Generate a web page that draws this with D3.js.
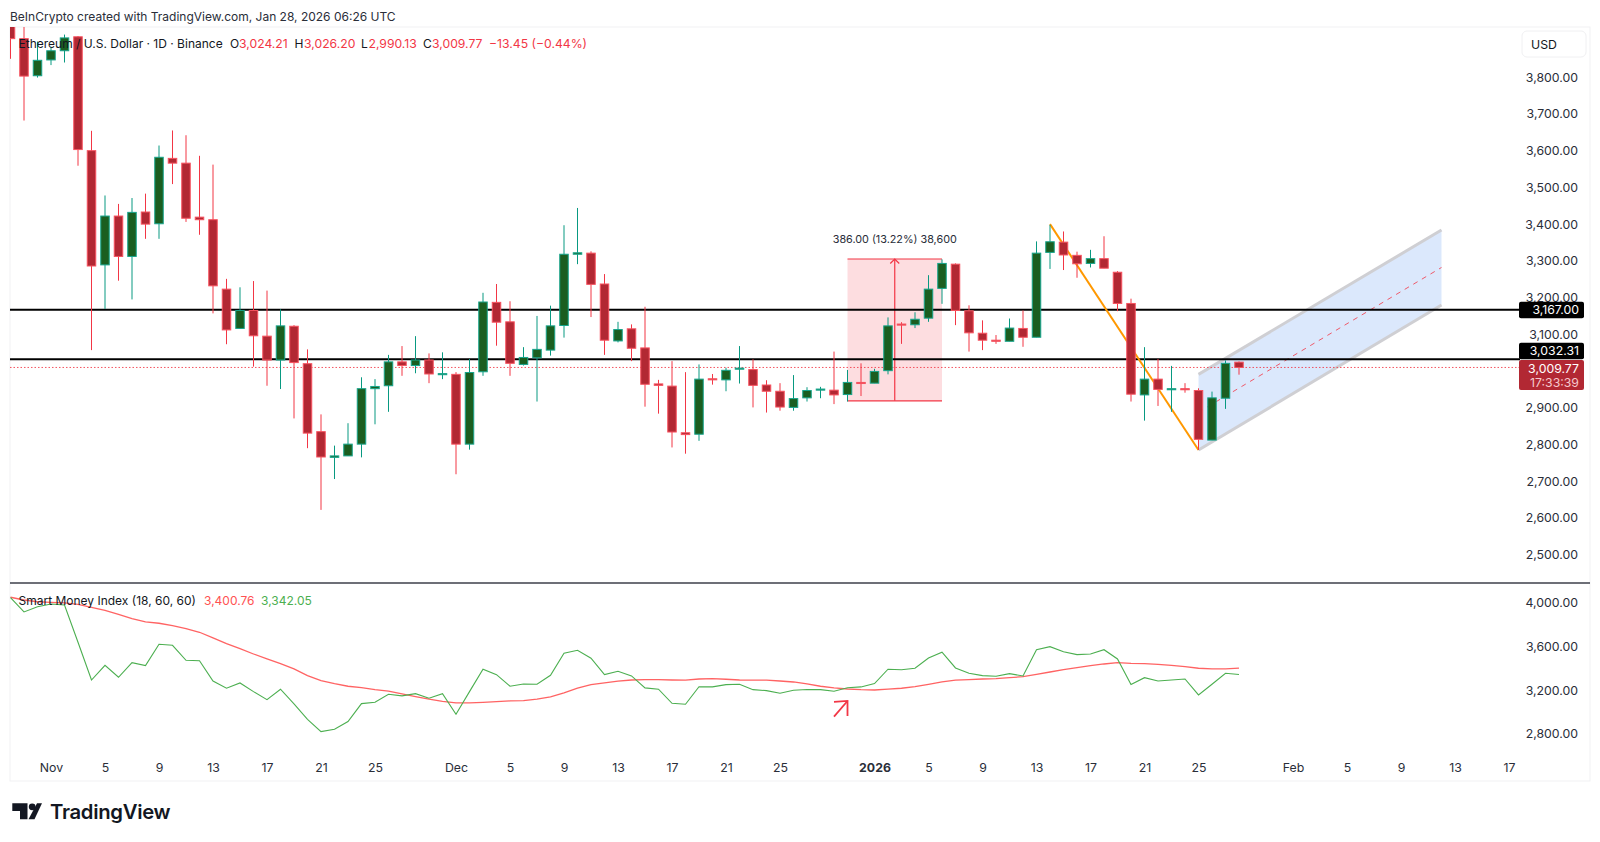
<!DOCTYPE html>
<html>
<head>
<meta charset="utf-8">
<script src="https://cdn.jsdelivr.net/npm/d3@7"></script>
<style>
  html, body { margin: 0; padding: 0; background: #fff; }
  svg { display: block; }
  text { font-family: Inter, "Noto Sans", sans-serif; }
</style>
</head>
<body>
<svg width="1600" height="842"></svg>
<script>
// first candle is Oct 29 2025, one candle per day
var firstDay = new Date(Date.UTC(2025, 9, 29));

var opens = [3960,3905,3804,3847,3872,3910,3600,3289,3422,3312,3433,3401,3579,3566,3419,3412,3223,3116,3165,3095,3030,3122,3020,2835,2765,2769,2801,2952,2960,3025,3015,3030,2990,2991,2801,2998,3187,3134,3018,3036,3057,3124,3318,3321,3237,3082,3115,3063,2965,2959,2832,2828,2979,2976,3005,3004,2962,2945,2901,2927,2948,2948,2936,2969,2967,3001,3128,3126,3144,3225,3291,3164,3103,3084,3081,3116,3092,3323,3351,3315,3293,3306,3269,3184,2935,2978,2949,2952,2947,2812,2926,3024.21];
var highs = [4000,3950,3897,3883,3916,3912,3654,3478,3455,3471,3483,3614,3655,3642,3586,3562,3251,3228,3245,3219,3168,3125,3059,2882,2797,2858,2983,2978,3044,3068,3095,3048,3051,2997,3033,3213,3237,3190,3065,3150,3178,3397,3444,3326,3264,3134,3127,3175,2976,3027,2997,3018,2992,3009,3068,3032,2975,2967,2989,2956,2957,3053,3003,3021,3006,3146,3133,3160,3261,3304,3293,3179,3138,3098,3143,3165,3353,3398,3380,3325,3330,3367,3272,3197,3065,3033,3014,2967,2953,2944,3029,3026.20];
var lows = [3850,3682,3799,3833,3840,3559,3057,3169,3246,3195,3360,3360,3509,3406,3371,3157,3073,3116,3012,2960,2951,2871,2790,2622,2706,2769,2765,2855,2889,2987,2994,2967,2978,2719,2786,2987,3069,2987,3015,2917,3042,3091,3291,3147,3044,3078,3027,2903,2884,2792,2775,2810,2963,2945,2966,2901,2887,2892,2892,2917,2926,2910,2917,2932,2967,2991,3074,3117,3134,3183,3125,3053,3057,3074,3081,3066,3092,3278,3275,3254,3282,3280,3163,2917,2865,2905,2889,2941,2785,2812,2897,2990.13];
var closes = [3905,3803,3846,3872,3907,3603,3286,3422,3312,3432,3400,3582,3566,3416,3412,3232,3112,3165,3096,3030,3123,3023,2831,2766,2769,2801,2952,2958,3025,3015,3030,2992,2993,2801,2996,3188,3133,3021,3037,3059,3123,3318,3322,3236,3084,3113,3062,2964,2961,2834,2827,2978,2976,3002,3008,2961,2945,2902,2925,2947,2951,2935,2969,2966,2999,3123,3125,3141,3223,3293,3165,3104,3084,3081,3117,3092,3321,3352,3316,3292,3306,3280,3184,2937,2978,2950,2952,2949,2814,2927,3021,3009.77];

var smiSignal = [4046,4021,4005,4000,3994,3982,3954,3927,3891,3851,3821,3809,3787,3760,3727,3675,3623,3577,3529,3484,3441,3393,3332,3286,3259,3235,3222,3204,3190,3165,3140,3117,3098,3083,3083,3089,3095,3101,3104,3117,3138,3174,3217,3250,3265,3281,3292,3295,3295,3292,3290,3301,3304,3299,3292,3290,3290,3283,3274,3256,3235,3220,3210,3204,3201,3208,3217,3231,3253,3274,3290,3295,3301,3304,3313,3322,3344,3365,3386,3404,3423,3438,3450,3444,3441,3435,3426,3413,3399,3393,3393,3400.76];
var smiIndex = [4042,3912,3960,3985,3975,3636,3292,3426,3317,3450,3423,3618,3608,3472,3468,3283,3217,3265,3186,3113,3208,3074,2934,2822,2843,2913,3077,3089,3162,3147,3168,3126,3168,2980,3186,3390,3341,3235,3256,3253,3335,3536,3563,3490,3341,3372,3329,3220,3208,3080,3071,3231,3229,3250,3253,3204,3195,3171,3199,3206,3204,3189,3222,3229,3259,3390,3386,3399,3493,3545,3402,3353,3332,3326,3350,3329,3568,3596,3550,3523,3529,3568,3484,3250,3313,3283,3292,3301,3156,3253,3353,3342.05];

var priceTicks = [3800,3700,3600,3500,3400,3300,3200,3100,2900,2800,2700,2600,2500];
var smiTicks = [4000,3600,3200,2800];
var monthStarts = [[2025,10,"Nov"],[2025,11,"Dec"],[2026,0,"2026"],[2026,1,"Feb"]];
var dayTicks = [5,9,13,17,21,25];

var levels = [3167.00, 3032.31];
var lastClose = 3009.77;
var countdown = "17:33:39";

// drawings: [candle index, price]
var rangeBox = {from: 62, to: 69, low: 2919, high: 3305};
var fallLine = [[77, 3400], [88, 2785]];
var channelTop = [[88, 2991], [106, 3384]];
var channelBottom = [[88, 2785], [106, 3180]];
var channelMid = [[88, 2888], [106, 3282]];
var smiArrow = [[61, 2958], [62, 3101]];
var smiArrowHead = [[61, 3093], [62, 3101], [62, 2965]];

function dayAt(i) { return d3.utcDay.offset(firstDay, i); }

var svg = d3.select("svg");
var x = d3.scaleUtc()
  .domain([new Date(Date.UTC(2025, 10, 1)), new Date(Date.UTC(2026, 1, 17))])
  .range([51, 51 + 108 * 13.5]);
var y = d3.scaleLinear().domain([2500, 3800]).range([554.7, 77.2]);
var ySmi = d3.scaleLinear().domain([2800, 4000]).range([734, 602.3]);

function xi(i) { return x(dayAt(i)); }
var priceLine = d3.line().x(d => xi(d[0])).y(d => y(d[1]));
var smiLine = d3.line().x(d => xi(d[0])).y(d => ySmi(d[1]));

var red = "#f23645", redBody = "#b22833", greenBody = "#1b5e20", teal = "#089981";

// frame
svg.append("rect").attr("x", 10).attr("y", 27).attr("width", 1580).attr("height", 754)
  .attr("fill", "#fff").attr("stroke", "#f1f1f3");

svg.append("text").attr("x", 10).attr("y", 20.5).attr("font-size", 12).attr("fill", "#2a2e39")
  .text("BeInCrypto created with TradingView.com, Jan 28, 2026 06:26 UTC");

var defs = svg.append("defs");
defs.append("clipPath").attr("id", "mainClip").append("rect")
  .attr("x", 10).attr("y", 27).attr("width", 1580).attr("height", 556);
defs.append("clipPath").attr("id", "lowClip").append("rect")
  .attr("x", 10).attr("y", 584).attr("width", 1580).attr("height", 172);

var main = svg.append("g").attr("clip-path", "url(#mainClip)");

// range measure
main.append("rect").attr("x", xi(rangeBox.from)).attr("width", xi(rangeBox.to) - xi(rangeBox.from))
  .attr("y", y(rangeBox.high)).attr("height", y(rangeBox.low) - y(rangeBox.high))
  .attr("fill", red).attr("fill-opacity", 0.17);
[rangeBox.high, rangeBox.low].forEach(function(p) {
  main.append("line").attr("x1", xi(rangeBox.from)).attr("x2", xi(rangeBox.to))
    .attr("y1", y(p)).attr("y2", y(p)).attr("stroke", red).attr("stroke-width", 1.2);
});
var arrowX = (xi(rangeBox.from) + xi(rangeBox.to)) / 2;
main.append("line").attr("x1", arrowX).attr("x2", arrowX)
  .attr("y1", y(rangeBox.low)).attr("y2", y(rangeBox.high)).attr("stroke", red).attr("stroke-width", 1.2);
main.append("path").attr("d", d3.line()([[arrowX - 4.5, y(rangeBox.high) + 4.5], [arrowX, y(rangeBox.high)], [arrowX + 4.5, y(rangeBox.high) + 4.5]]))
  .attr("fill", "none").attr("stroke", red).attr("stroke-width", 1.2);

// channel
var channelArea = channelTop.concat(channelBottom.slice().reverse());
main.append("path").attr("d", priceLine(channelArea) + "Z").attr("fill", "#2878f0").attr("fill-opacity", 0.17);
[channelTop, channelBottom].forEach(function(c) {
  main.append("path").attr("d", priceLine(c)).attr("fill", "none").attr("stroke", "#cfcfd3").attr("stroke-width", 3);
});
main.append("path").attr("d", priceLine(channelMid)).attr("fill", "none")
  .attr("stroke", red).attr("stroke-opacity", 0.8).attr("stroke-width", 1).attr("stroke-dasharray", "5 5");

// levels
levels.forEach(function(p) {
  main.append("line").attr("x1", 10).attr("x2", 1520).attr("y1", y(p)).attr("y2", y(p))
    .attr("stroke", "#000").attr("stroke-width", 2);
});
main.append("line").attr("x1", 10).attr("x2", 1520).attr("y1", y(lastClose)).attr("y2", y(lastClose))
  .attr("stroke", red).attr("stroke-opacity", 0.85).attr("stroke-width", 1).attr("stroke-dasharray", "1.5 2");

main.append("path").attr("d", priceLine(fallLine)).attr("fill", "none").attr("stroke", "#ff9800").attr("stroke-width", 2);

// candles
var candles = opens.map(function(o, i) {
  return {i: i, o: o, h: highs[i], l: lows[i], c: closes[i]};
});
var candle = main.selectAll("g.candle").data(candles).enter().append("g").attr("class", "candle");
candle.append("line")
  .attr("x1", d => xi(d.i)).attr("x2", d => xi(d.i))
  .attr("y1", d => y(d.h)).attr("y2", d => y(d.l))
  .attr("stroke", d => d.c >= d.o ? teal : red).attr("stroke-width", 1);
candle.append("rect")
  .attr("x", d => xi(d.i) - 4.25).attr("width", 8.5)
  .attr("y", d => y(Math.max(d.o, d.c)))
  .attr("height", d => Math.max(1, Math.abs(y(d.o) - y(d.c))))
  .attr("fill", d => d.c >= d.o ? greenBody : redBody)
  .attr("stroke", d => d.c >= d.o ? "#17a58c" : "#f7525f").attr("stroke-width", 1);

// measure label
svg.append("text").attr("x", arrowX).attr("y", 243).attr("text-anchor", "middle")
  .attr("font-size", 10.8).attr("fill", "#2a2e39").text("386.00 (13.22%) 38,600");

// legend
svg.append("text").attr("x", 18.5).attr("y", 47.5).attr("font-size", 12).attr("fill", "#131722")
  .text("Ethereum / U.S. Dollar · 1D · Binance");
var ohlc = [["O", 230, "3,024.21", 239], ["H", 294.5, "3,026.20", 304], ["L", 361, "2,990.13", 368.5], ["C", 423, "3,009.77", 432]];
ohlc.forEach(function(d) {
  svg.append("text").attr("x", d[1]).attr("y", 47.5).attr("font-size", 12).attr("fill", "#131722").text(d[0]);
  svg.append("text").attr("x", d[3]).attr("y", 47.5).attr("font-size", 12.2).attr("fill", red).text(d[2]);
});
svg.append("text").attr("x", 489).attr("y", 47.5).attr("font-size", 12.2).attr("fill", red).text("−13.45 (−0.44%)");

// pane separator
svg.append("line").attr("x1", 10).attr("x2", 1590).attr("y1", 583).attr("y2", 583)
  .attr("stroke", "#3c3f4a").attr("stroke-width", 1.3);

// smart money index
var low = svg.append("g").attr("clip-path", "url(#lowClip)");
low.append("path").attr("d", smiLine(smiSignal.map((v, i) => [i, v]))).attr("fill", "none")
  .attr("stroke", "#ff5252").attr("stroke-opacity", 0.9).attr("stroke-width", 1.3);
low.append("path").attr("d", smiLine(smiIndex.map((v, i) => [i, v]))).attr("fill", "none")
  .attr("stroke", "#4caf50").attr("stroke-width", 1.1);
low.append("path").attr("d", smiLine(smiArrow)).attr("fill", "none").attr("stroke", red).attr("stroke-width", 1.8);
low.append("path").attr("d", smiLine(smiArrowHead)).attr("fill", "none").attr("stroke", red).attr("stroke-width", 1.8);

svg.append("text").attr("x", 18.5).attr("y", 604.5).attr("font-size", 12).attr("fill", "#131722").text("Smart Money Index (18, 60, 60)");
svg.append("text").attr("x", 204).attr("y", 604.5).attr("font-size", 12).attr("fill", "#ff5252").text("3,400.76");
svg.append("text").attr("x", 261).attr("y", 604.5).attr("font-size", 12).attr("fill", "#4caf50").text("3,342.05");

// price axes
var fmt = d3.format(",.2f");
var axisY = d3.axisLeft(y).tickValues(priceTicks).tickFormat(fmt).tickSize(0).tickPadding(0);
var axisSmi = d3.axisLeft(ySmi).tickValues(smiTicks).tickFormat(fmt).tickSize(0).tickPadding(0);
[axisY, axisSmi].forEach(function(a) {
  var g = svg.append("g").attr("transform", "translate(1578,0)").call(a);
  g.select(".domain").remove();
  g.selectAll("text").attr("font-size", 12.3).attr("fill", "#2a2e39").style("font-family", "Inter");
});

// time axis
var timeTicks = [], timeLabels = new Map();
monthStarts.forEach(function(m) {
  var first = new Date(Date.UTC(m[0], m[1], 1));
  timeTicks.push(first);
  timeLabels.set(+first, m[2]);
  dayTicks.forEach(function(n) {
    var t = new Date(Date.UTC(m[0], m[1], n));
    if (m[2] == "Feb" && n > 17) return;
    timeTicks.push(t);
    timeLabels.set(+t, String(n));
  });
});
var axisX = d3.axisBottom(x).tickValues(timeTicks).tickFormat(d => timeLabels.get(+d)).tickSize(0).tickPadding(0);
var gx = svg.append("g").attr("transform", "translate(0,763.5)").call(axisX);
gx.select(".domain").remove();
gx.selectAll("text").attr("font-size", 12.3).attr("fill", "#2a2e39").style("font-family", "Inter")
  .attr("font-weight", d => timeLabels.get(+d) == "2026" ? 700 : 400);

// USD button
svg.append("rect").attr("x", 1522).attr("y", 31).attr("width", 64).attr("height", 26).attr("rx", 5)
  .attr("fill", "#fff").attr("stroke", "#f0f0f2");
svg.append("text").attr("x", 1531).attr("y", 48.5).attr("font-size", 12.3).attr("fill", "#131722").text("USD");

// price labels
function priceTag(p, top, h, fill, lines) {
  svg.append("rect").attr("x", 1519).attr("y", top).attr("width", 65).attr("height", h).attr("rx", 2).attr("fill", fill);
  lines.forEach(function(s, k) {
    svg.append("text").attr("x", 1579).attr("y", top + 12.5 + k * 14).attr("text-anchor", "end")
      .attr("font-size", 12.3).attr("fill", k == 1 ? "#f6c9cd" : "#fff").text(s);
  });
}
priceTag(levels[0], y(levels[0]) - 8, 16.5, "#000", [fmt(levels[0])]);
priceTag(levels[1], 342.7, 16.5, "#000", [fmt(levels[1])]);
priceTag(lastClose, 360, 30, redBody, [fmt(lastClose), countdown]);

// logo
var logo = svg.append("g").attr("fill", "#131722");
logo.append("path").attr("d", "M12.3 803.3H27.5V819.3H20V811H12.3Z");
logo.append("circle").attr("cx", 32.2).attr("cy", 806.8).attr("r", 3.4);
logo.append("path").attr("d", "M37 803.3H42L34.5 819.3H28.5Z");
logo.append("text").attr("x", 50).attr("y", 819.3).attr("font-size", 20.3).attr("font-weight", 600).attr("letter-spacing", -0.3).text("TradingView");
</script>
</body>
</html>
